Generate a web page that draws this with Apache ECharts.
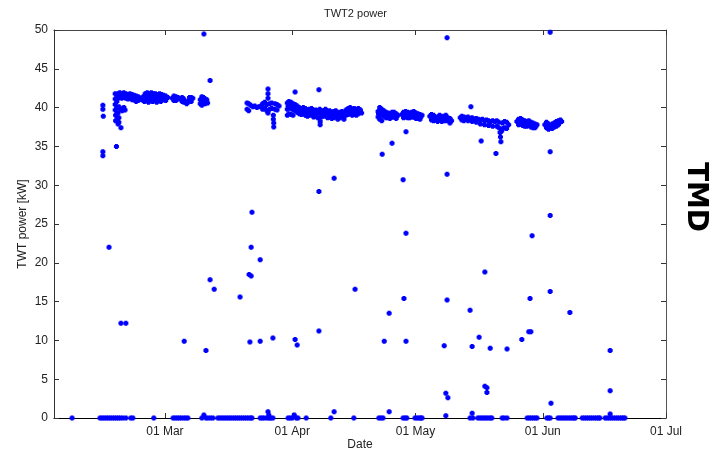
<!DOCTYPE html>
<html>
<head>
<meta charset="utf-8">
<script src="https://cdn.jsdelivr.net/npm/echarts@6/dist/echarts.min.js"></script>
<style>html,body{margin:0;padding:0;background:#fff}#c{width:711px;height:449px}</style>
</head>
<body>
<div id="c"></div>
<script>
// x values: day of year 2013 (1 Jan = 0), y values: TWT power [kW]
const tickDays = [59, 90, 120, 151, 181];
const tickLabels = ['01 Mar', '01 Apr', '01 May', '01 Jun', '01 Jul'];
const yTicks = [0, 5, 10, 15, 20, 25, 30, 35, 40, 45, 50];

const febBand = [
  [43.9,40.3],[43.9,39.8],[44.0,38.9],
  [46.9,41.8],[46.9,41.1],[46.9,40.4],[46.9,39.7],[47.0,39.0],[47.0,38.3],
  [47.3,41.6],[47.3,40.8],[47.3,40.0],[47.4,39.3],[47.5,38.6],[47.6,37.9],
  [47.8,40.1],[48.2,39.8],[48.6,39.6],[49.0,40.0],[49.3,39.7],[47.6,39.3],[47.8,38.7],[47.8,38.1],
  [47.6,41.8],[47.6,41.2],[48.0,41.9],[48.0,41.3],[48.5,41.8],[48.5,41.2],[49.0,41.9],[49.0,41.3],
  [49.5,41.8],[49.5,41.2],[50.0,41.7],[50.0,41.1],[50.5,41.8],[50.5,41.2],[51.0,41.7],[51.0,41.0],
  [51.5,41.6],[51.5,41.0],[52.0,41.5],[52.0,40.8],[52.5,41.4],[52.5,40.9],[52.9,41.2],
  [53.7,41.4],[53.7,40.9],[54.2,41.8],[54.2,41.1],[54.7,41.9],[54.7,41.2],[55.2,41.8],[55.2,41.1],
  [55.7,41.9],[55.7,41.3],[56.2,41.8],[56.2,41.2],[56.7,41.8],[56.7,41.1],[57.2,41.7],[57.2,41.0],
  [57.7,41.8],[57.7,41.2],[58.2,41.7],[58.2,41.0],[58.7,41.6],[58.7,41.0],
  [47.8,41.5],[48.3,41.6],[48.8,41.5],[49.3,41.5],[49.8,41.4],[50.3,41.5],[50.8,41.4],[51.3,41.3],
  [51.8,41.2],[52.3,41.1],[52.7,41.0],[53.9,41.3],[54.4,41.5],[54.9,41.6],[55.4,41.4],[55.9,41.6],
  [56.4,41.5],[56.9,41.4],[57.4,41.4],[57.9,41.5],[58.4,41.3],[58.9,41.3],
  [54.0,40.8],[55.0,40.7],[56.0,40.8],[57.0,40.7],[58.0,40.8]
];
const marBand = [
  [59.2,41.5],[59.2,40.9],[59.4,41.2],[59.7,41.3],
  [60.8,41.2],[61.2,41.5],[61.2,40.9],[61.7,41.4],[61.7,40.9],[62.2,41.3],[62.6,41.1],
  [63.2,41.3],[63.2,40.8],[63.6,41.1],[63.6,40.7],[64.0,40.8],[64.3,40.5],[64.6,40.7],
  [65.0,40.9],[65.0,41.3],[65.4,41.3],[65.4,40.8],[65.8,41.2],
  [67.6,41.0],[67.6,40.5],[68.0,41.4],[68.0,40.8],[68.0,40.3],[68.4,41.3],[68.4,40.6],
  [68.8,41.1],[68.8,40.5],[69.2,41.0],[69.4,40.6],
  [79.0,40.6],[79.0,39.8],[79.4,40.5],[79.4,39.6],
  [79.9,40.3],[80.4,40.1],[80.9,40.2],[81.4,40.0],[81.9,40.1],[82.4,40.2],
  [82.8,40.5],[82.8,39.8],[83.3,40.7],[83.3,39.9],[83.8,40.4],[83.8,39.6],
  [84.1,41.2],[84.1,41.8],[84.1,42.4],[84.1,39.3],[84.5,40.5],[84.5,39.8],[85.0,40.6],[85.0,39.9],
  [85.4,39.0],[85.4,38.5],[85.5,38.0],[85.5,37.5],[85.8,40.5],[85.8,39.8],[86.3,40.4],[86.3,39.7],[86.8,40.2],
  [88.8,40.6],[88.8,39.8],[88.8,39.0],[89.2,40.8],[89.2,40.0],[89.2,39.2],[89.7,40.7],[89.7,39.9],[89.7,39.1],
  [89.0,40.2],[89.5,40.3]
];
const aprBand = [
  [90.2,40.5],[90.2,39.7],[90.2,39.0],[90.7,40.4],[90.7,39.6],[91.2,40.2],[91.2,39.4],[91.7,40.0],[91.7,39.2],
  [92.2,39.9],[92.2,39.1],[92.7,40.0],[92.7,39.2],[93.2,39.9],[93.2,39.0],[93.7,39.7],[93.7,38.9],
  [94.2,39.8],[94.2,39.0],[94.7,39.9],[94.7,39.1],[95.2,39.6],[95.2,38.8],[95.7,39.7],[95.7,38.9],
  [96.2,39.6],[96.2,38.7],[96.8,38.2],[96.8,37.8],[96.7,39.8],[97.1,39.5],[97.1,38.8],[97.6,39.6],[97.6,38.9],
  [98.1,39.8],[98.1,39.0],[98.6,39.5],[98.6,38.7],[99.1,39.6],[99.1,38.9],[99.6,39.4],[99.6,38.6],
  [100.1,39.5],[100.1,38.7],[100.6,39.6],[100.6,38.8],[101.1,39.3],[101.1,38.5],[101.6,39.4],[101.6,38.7],
  [102.1,39.5],[102.1,38.8],[102.6,39.3],[102.6,38.5],[103.1,39.7],[103.1,39.0],[103.6,39.9],[103.6,39.1],
  [104.1,40.0],[104.1,39.2],[104.6,39.8],[104.6,39.0],[105.1,39.9],[105.1,39.1],[105.6,39.8],[105.6,39.0],
  [106.1,39.9],[106.1,39.2],[106.6,39.7],[106.9,39.3],
  [90.0,40.1],[90.5,40.0],[91.0,39.8],[91.5,39.6],[92.0,39.5],[92.5,39.6],[93.0,39.5],[93.5,39.3],
  [94.0,39.4],[94.5,39.5],[95.0,39.3],[95.5,39.3],[96.0,39.2],[96.9,39.2],[97.4,39.2],[97.9,39.4],
  [98.4,39.1],[98.9,39.2],[99.4,39.0],[99.9,39.1],[100.4,39.2],[100.9,38.9],[101.4,39.0],[101.9,39.1],
  [102.4,38.9],[102.9,39.3],[103.4,39.5],[103.9,39.6],[104.4,39.4],[104.9,39.5],[105.4,39.4],[105.9,39.5],[106.4,39.5],
  [110.9,39.5],[110.9,38.8],[111.3,40.0],[111.3,39.3],[111.3,38.5],[111.8,39.8],[111.8,39.0],[111.8,38.3],
  [112.3,39.6],[112.3,38.9],[112.8,39.4],[112.8,38.7],[113.3,39.3],[113.3,38.7],[113.8,39.2],[113.8,38.6],
  [114.3,39.4],[114.3,38.8],[114.8,39.4],[114.8,38.8],[115.3,39.2],[115.3,38.6],[115.7,39.0],
  [111.0,39.2],[111.5,39.6],[112.0,39.4],[112.5,39.2],[113.0,39.0],[113.5,39.0],[114.0,38.9],[114.5,39.1],
  [115.0,39.1],[115.5,38.9],
  [116.7,39.1],[117.1,39.4],[117.1,38.7],[117.6,39.5],[117.6,38.8],[118.1,39.4],[118.1,38.7],
  [118.6,39.3],[118.6,38.7],[119.1,39.4],[119.1,38.8],[119.6,39.5],[119.6,38.8],
  [117.3,39.1],[117.8,39.1],[118.3,39.0],[118.8,39.0],[119.3,39.1],[119.8,39.1]
];
const mayBand = [
  [120.1,39.3],[120.1,38.6],[120.6,39.2],[120.6,38.6],[121.1,39.1],[121.1,38.5],[121.6,39.0],
  [120.3,38.9],[120.8,38.9],[121.3,38.8],
  [123.5,38.9],[123.9,39.1],[123.9,38.4],[124.4,39.0],[124.4,38.3],[124.9,38.7],[125.4,38.8],[125.4,38.2],
  [125.9,39.0],[125.9,38.4],[126.4,38.8],[126.4,38.2],[126.9,38.9],[126.9,38.3],[127.4,39.0],[127.4,38.3],
  [127.9,38.7],[128.4,38.6],[128.4,38.0],[128.8,38.3],
  [124.1,38.7],[124.6,38.6],[125.6,38.5],[126.1,38.7],[126.6,38.5],[127.1,38.6],[127.6,38.6],[128.1,38.3],
  [130.9,38.7],[131.3,38.9],[131.3,38.4],[131.8,38.8],[131.8,38.3],[132.3,38.7],[132.8,38.8],[132.8,38.3],
  [133.3,38.6],[133.8,38.7],[133.8,38.2],[134.3,38.5],[134.8,38.6],[134.8,38.1],[135.3,38.5],[135.8,38.4],
  [135.8,37.9],[136.3,38.5],[136.8,38.3],[136.8,37.8],[137.3,38.4],[137.8,38.3],[137.8,37.7],[138.3,38.2],
  [138.8,38.3],[138.8,37.6],[139.3,38.2],[139.8,38.3],[139.8,37.6],[140.3,38.1],[140.3,37.4],[140.6,36.8],
  [140.7,36.2],[140.8,35.6],[141.0,37.0],[141.2,38.0],[141.3,37.3],[141.7,38.2],[141.7,37.4],[142.2,38.1],
  [142.2,37.3],[142.7,37.8],
  [144.7,38.2],[145.1,38.5],[145.1,37.8],[145.6,38.6],[145.6,37.9],[146.1,38.4],[146.1,37.7],[146.6,38.3],
  [146.6,37.6],[147.1,38.2],[147.1,37.6],[147.6,38.3],[147.6,37.7],[148.1,38.1],[148.1,37.5],[148.6,38.0],
  [148.6,37.4],[149.1,37.9],[149.1,37.4],[149.6,37.8],
  [145.3,38.1],[145.8,38.2],[146.3,38.0],[146.8,37.9],[147.3,37.9],[147.8,38.0],[148.3,37.8],[148.8,37.7],[149.3,37.6]
];
const junBand = [
  [151.5,37.8],[151.9,38.1],[151.9,37.4],[152.4,37.9],[152.4,37.2],[152.9,37.7],[153.3,37.9],[153.3,37.3],
  [153.8,38.0],[153.8,37.5],[154.3,38.2],[154.3,37.6],[154.8,38.3],[154.8,37.8],[155.3,38.4],[155.6,38.2],
  [152.1,37.7],[152.6,37.5],[153.1,37.6],[153.5,37.6],[154.0,37.7],[154.5,37.9],[155.0,38.0]
];
const outliers = [
  [43.9,34.3],[43.9,33.8],[45.4,22.0],[48.3,12.2],[49.5,12.2],[47.2,35.0],[48.3,37.4],
  [63.7,9.9],[68.5,49.5],[70.0,43.5],[70.0,17.8],[71.0,16.6],[69.0,8.7],[77.3,15.6],
  [79.7,9.8],[80.0,22.0],[79.5,18.5],[80.0,18.3],[80.2,26.5],[82.2,20.4],[82.2,9.9],[85.3,10.3],
  [90.7,42.0],[90.7,10.1],[91.2,9.4],[96.5,42.3],[96.5,29.2],[96.5,11.2],[100.2,30.9],[105.3,16.6],
  [111.9,34.0],[112.4,9.9],[113.6,13.5],[114.3,35.4],[117.0,30.7],[117.2,15.4],[117.7,23.8],[117.7,9.9],[117.7,36.9],
  [127.0,9.3],[127.4,3.2],[127.9,2.6],[127.7,15.2],[127.7,31.4],[127.7,49.0],
  [133.3,13.9],[133.8,9.2],[133.5,40.1],[135.5,10.4],[136.9,18.8],[136.9,4.1],[137.4,3.9],[137.4,3.3],
  [136.0,35.7],[138.2,9.0],[139.6,34.1],[142.3,8.9],[145.9,10.1],[147.6,11.1],[148.1,11.1],[147.9,15.4],[148.4,23.5],
  [152.8,16.3],[152.8,26.1],[152.8,34.3],[152.8,49.7],[153.0,1.9],[157.6,13.6],
  [167.4,8.7],[167.4,3.5],[167.4,0.5]
];
const zeroReadings = [
  [36.4,0],[43.2,0],[43.7,0],[44.2,0],[44.7,0],[45.2,0],[45.7,0],[46.2,0],[46.7,0],[47.2,0],[47.7,0],[48.2,0],
  [48.8,0],[49.5,0],[50.7,0],[51.2,0],[56.3,0],
  [61.0,0],[61.5,0],[62.0,0],[62.5,0],[63.0,0],[63.6,0],[64.1,0],[64.6,0],
  [68.0,0],[68.5,0.4],[69.0,0],[69.5,0],[70.1,0],[70.7,0],
  [71.9,0],[72.4,0],[72.9,0],[73.4,0],[73.9,0],[74.4,0],[74.9,0],[75.4,0],[75.9,0],[76.4,0],[76.9,0],
  [77.4,0],[77.9,0],[78.4,0],[78.9,0],[79.4,0],[79.9,0],[80.2,0],
  [82.2,0],[82.7,0],[83.2,0],[83.9,0],[84.1,0.8],[84.3,0.4],[84.4,0],[84.8,0],[85.3,0],
  [89.0,0],[89.5,0],[90.0,0],[90.5,0.4],[91.0,0],[91.4,0],[93.4,0],[99.4,0],[100.2,0.8],[105.0,0],
  [111.1,0],[111.6,0],[112.1,0],[113.6,0.8],[117.0,0],[117.5,0],[117.9,0],
  [119.9,0],[120.4,0],[120.9,0],[121.3,0],[121.6,0],[127.4,0.3],
  [133.3,0],[133.8,0.6],[134.0,0],[135.2,0],[135.7,0],[136.2,0],[136.7,0],[137.2,0],[137.7,0],[138.2,0],[138.6,0],
  [141.1,0],[141.6,0],[142.3,0],[147.2,0],[147.7,0],[148.2,0],[148.7,0],[149.2,0],[149.6,0],
  [152.0,0],[152.4,0],[152.8,0],
  [154.7,0],[155.2,0],[155.7,0],[156.2,0],[156.7,0],[157.2,0],[157.7,0],[158.2,0],[158.6,0],[158.9,0],
  [160.6,0],[161.1,0],[161.6,0],[162.1,0],[162.6,0],[163.1,0],[163.6,0],[164.1,0],[164.6,0],[164.9,0],
  [166.2,0],[166.7,0],[167.2,0],[167.7,0],[168.2,0],[168.7,0],[169.2,0],[169.7,0],[170.2,0],[170.6,0],[171.0,0]
];

const allPoints = [].concat(febBand, marBand, aprBand, mayBand, junBand, outliers, zeroReadings);
const FONT = '"Liberation Sans", Arial, sans-serif';
const labelFor = v => { const i = tickDays.indexOf(v); return i >= 0 ? tickLabels[i] : ''; };

const chart = echarts.init(document.getElementById('c'), null, { renderer: 'canvas' });
const tickStyle = { inside: true, length: 5, lineStyle: { color: '#333', width: 1 } };
chart.setOption({
  animation: false,
  backgroundColor: '#fff',
  title: { text: 'TWT2 power', left: 'center', top: 3,
    textStyle: { fontSize: 11, fontWeight: 'normal', color: '#222', fontFamily: FONT } },
  grid: { left: 54, right: 45, top: 30, bottom: 31, containLabel: false, outerBoundsMode: 'none' },
  xAxis: [
    { type: 'value', min: 32, max: 181, position: 'bottom',
      name: 'Date', nameLocation: 'middle', nameGap: 21, nameMoveOverlap: false,
      nameTextStyle: { fontSize: 12, color: '#222', fontFamily: FONT },
      axisLine: { onZero: false, lineStyle: { color: '#000', width: 1 } },
      axisTick: Object.assign({ customValues: tickDays }, tickStyle),
      axisLabel: { customValues: tickDays, formatter: labelFor, margin: 8, fontSize: 12, color: '#222', fontFamily: FONT },
      splitLine: { show: false } },
    { type: 'value', min: 32, max: 181, position: 'top',
      axisLine: { onZero: false, lineStyle: { color: '#444', width: 1 } },
      axisTick: Object.assign({ customValues: tickDays }, tickStyle),
      axisLabel: { show: false }, splitLine: { show: false } }
  ],
  yAxis: [
    { type: 'value', min: 0, max: 50, interval: 5, position: 'left',
      name: 'TWT power [kW]', nameLocation: 'middle', nameGap: 25, nameMoveOverlap: false,
      nameTextStyle: { fontSize: 12, color: '#222', fontFamily: FONT },
      axisLine: { onZero: false, lineStyle: { color: '#333', width: 1 } },
      axisTick: tickStyle,
      axisLabel: { margin: 6, fontSize: 12, color: '#222', fontFamily: FONT,
        formatter: v => yTicks.indexOf(v) >= 0 ? String(v) : '' },
      splitLine: { show: false } },
    { type: 'value', min: 0, max: 50, interval: 5, position: 'right',
      axisLine: { onZero: false, lineStyle: { color: '#555', width: 1 } },
      axisTick: tickStyle, axisLabel: { show: false }, splitLine: { show: false } }
  ],
  series: [{
    type: 'scatter', xAxisIndex: 0, yAxisIndex: 0,
    data: allPoints,
    symbol: 'path://M1,0H4V1H5V4H4V5H1V4H0V1H1Z',
    symbolSize: 5,
    itemStyle: { color: '#0000ff', opacity: 1 },
    emphasis: { disabled: true }
  }],
  graphic: [{
    type: 'text', x: 695, y: 197, rotation: -Math.PI / 2,
    style: { text: 'TMD', font: 'bold 28px "DejaVu Sans", sans-serif', fill: '#000', align: 'center', verticalAlign: 'middle' }
  }]
});
</script>
</body>
</html>
